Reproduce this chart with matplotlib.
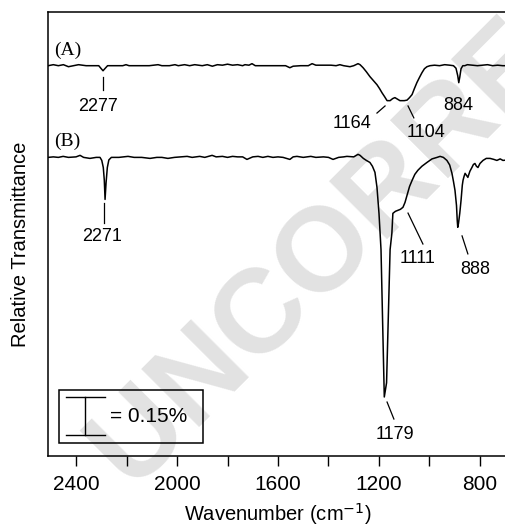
import numpy as np
import matplotlib
matplotlib.use("Agg")
import matplotlib.pyplot as plt
from matplotlib.patches import Rectangle

plt.rcParams['font.family'] = ['Liberation Sans', 'DejaVu Sans']

# spectrum (A): wavenumber (cm-1) and transmittance change (%) relative to its baseline
wn_a = [2510, 2490, 2470, 2450, 2430, 2410, 2390, 2360, 2330, 2310, 2300, 2293, 2286, 2275,
        2250, 2215, 2202, 2190, 2150, 2110, 2075, 2060, 2030, 2008, 1995, 1970, 1950, 1930,
        1900, 1880, 1860, 1840, 1820, 1800, 1780, 1760, 1740, 1731, 1715, 1703, 1690, 1670,
        1640, 1600, 1570, 1553, 1540, 1510, 1480, 1465, 1450, 1420, 1390, 1370, 1355, 1340,
        1315, 1300, 1283, 1275, 1263, 1250, 1236, 1222, 1208, 1198, 1188, 1178, 1168, 1156,
        1146, 1137, 1127, 1117, 1100, 1089, 1079, 1069, 1060, 1050, 1040, 1030, 1020, 1010,
        998, 980, 960, 940, 920, 905, 895, 888, 884, 880, 875, 868, 860, 850, 830, 810, 790,
        770, 750, 730, 710, 690]
tr_a = [0, .004, 0, .004, -.004, 0, .004, 0, 0, 0, -.012, -.020, -.012, 0,
        0, 0, .004, 0, 0, 0, .004, 0, 0, .004, 0, .004, 0, .004,
        0, .004, -.002, .004, .002, .006, .002, .004, 0, .004, .002, .008, 0, 0,
        0, 0, 0, -.008, -.002, 0, 0, .008, .002, .002, .002, 0, .004, 0,
        -.004, 0, .008, .004, -.008, -.024, -.043, -.059, -.075, -.090, -.107, -.122, -.138, -.138,
        -.130, -.126, -.132, -.138, -.138, -.136, -.126, -.114, -.091, -.067, -.047, -.028, -.012, -.004,
        0, .002, 0, .004, .002, 0, -.010, -.040, -.067, -.045, -.012, 0, 0, .004, .002, 0, .002,
        .004, 0, .002, 0, 0]

# spectrum (B)
wn_b = [2510, 2490, 2470, 2451, 2430, 2400, 2384, 2370, 2345, 2320, 2305, 2298, 2292, 2288,
        2285, 2281, 2276, 2270, 2260, 2230, 2194, 2170, 2140, 2107, 2080, 2060, 2036, 2010,
        1985, 1960, 1940, 1910, 1890, 1861, 1845, 1820, 1800, 1780, 1760, 1740, 1723, 1700,
        1679, 1660, 1640, 1620, 1600, 1580, 1553, 1540, 1525, 1500, 1470, 1450, 1420, 1400,
        1382, 1360, 1340, 1327, 1300, 1283, 1275, 1262, 1250, 1236, 1226, 1216, 1208, 1200,
        1192, 1179, 1170, 1156, 1149, 1145, 1135, 1125, 1115, 1105, 1097, 1089, 1079, 1069,
        1058, 1046, 1030, 1010, 990, 970, 958, 945, 931, 920, 911, 905, 899, 893, 890, 888,
        885, 880, 875, 870, 867, 863, 859, 854, 848, 840, 832, 826, 820, 814, 808, 800, 788,
        775, 760, 745, 733, 720, 709, 690]
tr_b = [0, .002, 0, .004, 0, .002, .008, 0, -.004, 0, 0, -.012, -.040, -.090,
        -.166, -.100, -.040, -.010, 0, 0, .004, 0, 0, -.004, 0, 0, -.004, 0,
        .002, .004, 0, .004, 0, .008, .002, .004, 0, .004, .002, .002, -.008, .002,
        .004, 0, .004, 0, .002, 0, -.008, .002, .004, 0, .004, 0, .002, 0,
        -.008, 0, .002, .004, .002, .012, .008, -.004, -.012, -.020, -.035, -.059, -.118, -.221,
        -.364, -.946, -.890, -.364, -.300, -.221, -.213, -.209, -.205, -.197, -.178, -.150, -.115, -.091,
        -.067, -.051, -.035, -.020, -.006, 0, .004, 0, -.012, -.030, -.063, -.095, -.130, -.190, -.250, -.276,
        -.260, -.220, -.170, -.110, -.090, -.075, -.063, -.070, -.079, -.055, -.040, -.028, -.024, -.035, -.040, -.024, -.012,
        -.004, -.004, -.008, -.012, -.006, -.012, -.010]

offset_a = -0.212
offset_b = -0.574

# band labels: (text, text x, text y, line x0, y0, x1, y1)
labels = [
    ("2277", 2313, -0.375, 2293, -0.255, 2293, -0.308),
    ("1164", 1307, -0.442, 1208, -0.399, 1176, -0.371),
    ("1104", 1014, -0.474, 1085, -0.371, 1062, -0.418),
    ("884", 887, -0.371, None, None, None, None),
    ("2271", 2297, -0.888, 2289, -0.754, 2289, -0.833),
    ("1111", 1046, -0.975, 1085, -0.794, 1026, -0.916),
    ("888", 820, -1.015, 871, -0.884, 848, -0.955),
    ("1179", 1137, -1.670, 1168, -1.540, 1141, -1.607),
]

fig = plt.figure(figsize=(5.06, 5.29), dpi=100)
ax = fig.add_axes([48 / 506, 73 / 529, 460 / 506, 444 / 529])
ax.set_facecolor('none')

fig.text(112 / 506, 1 - 472 / 529, "UNCORRECTED PROOF", rotation=45, rotation_mode='anchor',
         ha='left', va='center', fontsize=86, weight='bold', color='#e2e2e2', zorder=-1)

ax.plot(wn_a, np.array(tr_a) + offset_a, color='black', lw=1.1)
ax.plot(wn_b, np.array(tr_b) + offset_b, color='black', lw=1.1)

for txt, tx, ty, x0, y0, x1, y1 in labels:
    ax.text(tx, ty, txt, ha='center', va='center', fontsize=13)
    if x0 is not None:
        ax.plot([x0, x1], [y0, y1], color='black', lw=0.9)

ax.text(2487, -0.151, "(A)", family='Liberation Serif', fontsize=14, ha='left', va='center')
ax.text(2487, -0.509, "(B)", family='Liberation Serif', fontsize=14, ha='left', va='center')

# scale bar: 0.15 %
bar = 0.15
ax.add_patch(Rectangle((1898, -1.703), 568, 0.211, fill=False, ec='black', lw=1.1))
ax.plot([2364, 2364], [-1.519, -1.519 - bar], color='black', lw=1.0)
ax.plot([2441, 2285], [-1.519, -1.519], color='black', lw=1.0)
ax.plot([2441, 2285], [-1.519 - bar, -1.519 - bar], color='black', lw=1.0)
ax.text(2265, -1.597, "= 0.15%", ha='left', va='center', fontsize=15)

ax.set_xlim(2511, 689)
ax.set_ylim(-1.753, 0)
ax.set_xticks([2400, 2000, 1600, 1200, 800])
ax.set_xticks([2200, 1800, 1400, 1000], minor=True)
ax.tick_params(axis='x', which='both', direction='out', length=7, width=1.0, labelsize=15, pad=7)
ax.set_yticks([])
for s in ['left', 'top', 'bottom']:
    ax.spines[s].set_linewidth(1.1)
ax.spines['right'].set_visible(False)

ax.set_xlabel("Wavenumber (cm$^{-1}$)", fontsize=14.5, labelpad=5)
ax.set_ylabel("Relative Transmittance", fontsize=14.5)
ax.yaxis.set_label_coords(-0.04, 0.477)

fig.savefig("out.png", dpi=100)
